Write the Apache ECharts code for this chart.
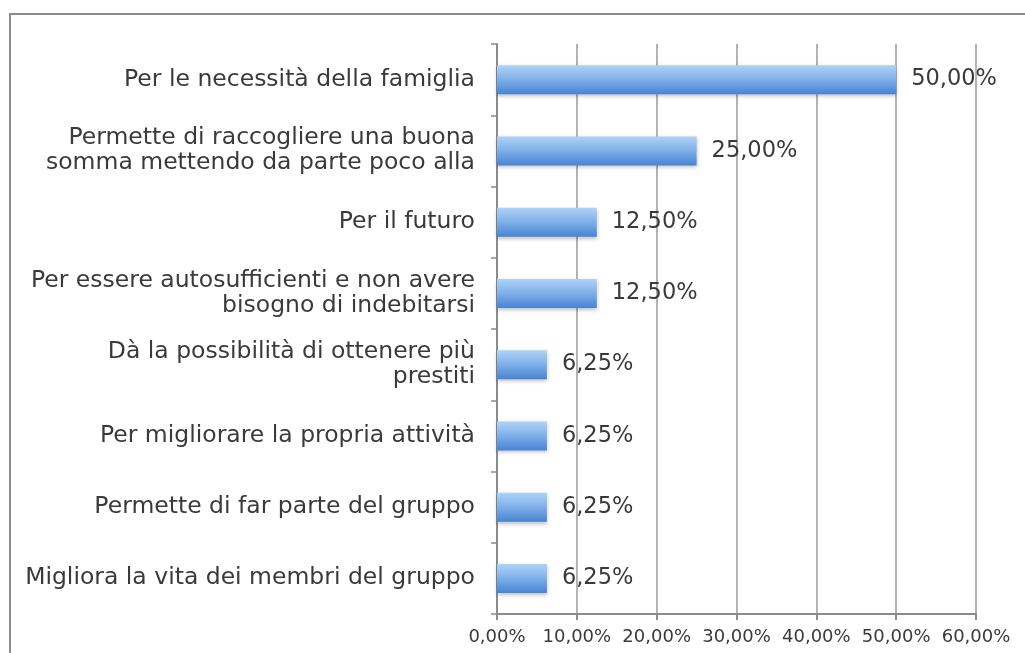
<!DOCTYPE html>
<html>
<head>
<meta charset="utf-8">
<script src="https://cdn.jsdelivr.net/npm/echarts@6/dist/echarts.min.js"></script>
<style>
  html, body { margin: 0; padding: 0; background: #fff; }
  #main { width: 1025px; height: 653px; }
</style>
</head>
<body>
<div id="main"></div>
<script>
// categorie, dall'alto verso il basso
const categories = [
  'Per le necessità della famiglia',
  'Permette di raccogliere una buona\nsomma mettendo da parte poco alla',
  'Per il futuro',
  'Per essere autosufficienti e non avere\nbisogno di indebitarsi',
  'Dà la possibilità di ottenere più\nprestiti',
  'Per migliorare la propria attività',
  'Permette di far parte del gruppo',
  'Migliora la vita dei membri del gruppo'
]
const values = [50, 25, 12.5, 12.5, 6.25, 6.25, 6.25, 6.25]
const xTicks = [0, 10, 20, 30, 40, 50, 60]

const fmt = v => v.toFixed(2).replace('.', ',') + '%'

const myChart = echarts.init(document.getElementById('main'))
myChart.setOption({
  animation: false,
  textStyle: { fontFamily: 'DejaVu Sans' },
  graphic: [{
    type: 'rect',
    shape: { x: 10, y: 14, width: 1100, height: 800 },
    style: { fill: 'none', stroke: '#8c8c8c', lineWidth: 2 },
    silent: true
  }],
  grid: {
    left: 497,
    right: 49,
    top: 44,
    bottom: 39
  },
  xAxis: {
    type: 'value',
    min: xTicks[0],
    max: xTicks[xTicks.length - 1],
    interval: 10,
    axisLine: { show: true, lineStyle: { color: '#8c8c8c', width: 2 } },
    axisTick: { show: true, length: 6, lineStyle: { color: '#8c8c8c', width: 2 } },
    splitLine: { show: true, lineStyle: { color: '#999', width: 1.5 } },
    axisLabel: {
      color: '#3a3a3a',
      fontSize: 18,
      margin: 14,
      formatter: v => fmt(v)
    }
  },
  yAxis: {
    type: 'category',
    inverse: true,
    data: categories,
    axisLine: { show: true, lineStyle: { color: '#8c8c8c', width: 2 } },
    axisTick: { show: true, length: 6, lineStyle: { color: '#8c8c8c', width: 1.5 } },
    axisLabel: {
      color: '#3a3a3a',
      fontSize: 23.5,
      margin: 22,
      lineHeight: 25,
      align: 'right'
    }
  },
  series: [{
    type: 'bar',
    data: values,
    barWidth: 29,
    itemStyle: {
      color: {
        type: 'linear', x: 0, y: 0, x2: 0, y2: 1,
        colorStops: [
          { offset: 0, color: '#b0d2f7' },
          { offset: 0.45, color: '#84b3ea' },
          { offset: 1, color: '#4784d3' }
        ]
      },
      shadowColor: 'rgba(0,0,0,0.25)',
      shadowBlur: 4,
      shadowOffsetY: 2
    },
    label: {
      show: true,
      position: 'right',
      distance: 15,
      color: '#3a3a3a',
      fontSize: 22.5,
      formatter: p => fmt(p.value)
    }
  }]
})
</script>
</body>
</html>
